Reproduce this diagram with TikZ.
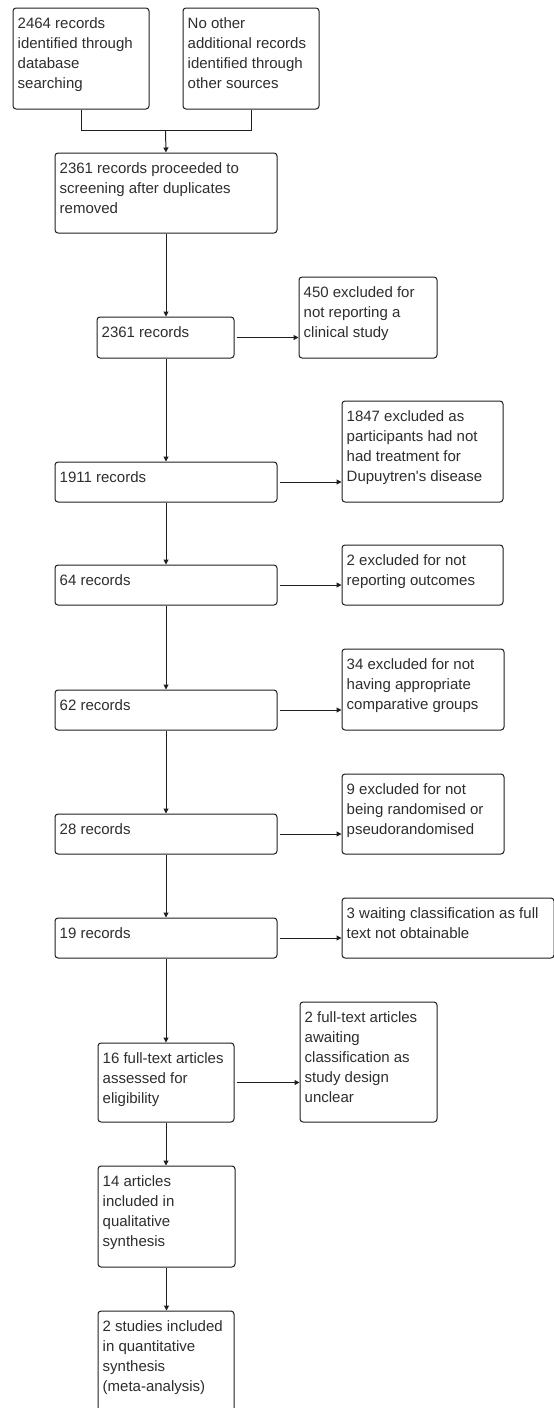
\documentclass[tikz,border=0pt]{standalone}
\usepackage{fontspec}
\setmainfont{Liberation Sans}
\usetikzlibrary{arrows.meta}
\definecolor{ink}{RGB}{45,45,45}
\definecolor{edge}{RGB}{30,30,30}
\newcommand{\fl}{\rule{0pt}{12pt}}
\begin{document}
\begin{tikzpicture}[x=1pt,y=-1pt,
  box/.style={draw=edge, line width=1pt, rounded corners=3pt, inner sep=0pt, anchor=north west},
  txt/.style={anchor=north west, inner sep=0pt, align=left, text=ink, font=\fontsize{15}{20}\selectfont},
  ln/.style={draw=edge, line width=1pt},
  arr/.style={draw=edge, line width=1pt, -{Triangle[length=5pt,width=5pt]}},
  side/.style={arr, shorten <=2pt}]
\useasboundingbox (0,0) rectangle (554,1408);
\clip (0,0) rectangle (554,1408);
\begin{scope}[xshift=0.5pt, yshift=-0.5pt]
% boxes
\node[box, minimum width=136pt, minimum height=101pt] (a1) at (12,7) {};
\node[box, minimum width=136pt, minimum height=101pt] (a2) at (182,7) {};
\node[box, minimum width=222pt, minimum height=80pt] (s) at (54,152) {};
\node[box, minimum width=137pt, minimum height=41pt] (r1) at (96,316) {};
\node[box, minimum width=138pt, minimum height=81pt] (e1) at (298,276) {};
\node[box, minimum width=222pt, minimum height=40pt] (r2) at (54,461) {};
\node[box, minimum width=161pt, minimum height=101pt] (e2) at (341,400) {};
\node[box, minimum width=222pt, minimum height=40pt] (r3) at (54,564) {};
\node[box, minimum width=161pt, minimum height=60pt] (e3) at (341,544) {};
\node[box, minimum width=222pt, minimum height=40pt] (r4) at (54,689) {};
\node[box, minimum width=162pt, minimum height=81pt] (e4) at (341,648) {};
\node[box, minimum width=222pt, minimum height=40pt] (r5) at (54,813) {};
\node[box, minimum width=162pt, minimum height=80pt] (e5) at (341,773) {};
\node[box, minimum width=222pt, minimum height=40pt] (r6) at (54,917) {};
\node[box, minimum width=212pt, minimum height=60pt] (e6) at (341,897) {};
\node[box, minimum width=136pt, minimum height=79pt] (r7) at (97,1042) {};
\node[box, minimum width=137pt, minimum height=120pt] (e7) at (299,1001) {};
\node[box, minimum width=137pt, minimum height=101pt] (r8) at (97,1165) {};
\node[box, minimum width=136pt, minimum height=112pt] (r9) at (97,1310) {};
% texts
\node[txt] (ta1) at (17,16) {\fl 2464 records\\identified through\\database\\searching};
\node[txt] (ta2) at (187,16) {\fl No other\\additional records\\identified through\\other sources};
\node[txt] (ts) at (59,161) {\fl 2361 records proceeded to\\screening after duplicates\\removed};
\node[txt] (tr1) at (101,325) {\fl 2361 records};
\node[txt] (te1) at (303,285) {\fl 450 excluded for\\not reporting a\\clinical study};
\node[txt] (tr2) at (59,470) {\fl 1911 records};
\node[txt] (te2) at (346,409) {\fl 1847 excluded as\\participants had not\\had treatment for\\Dupuytren\textquotesingle s disease};
\node[txt] (tr3) at (59,573) {\fl 64 records};
\node[txt] (te3) at (346,553) {\fl 2 excluded for not\\reporting outcomes};
\node[txt] (tr4) at (59,698) {\fl 62 records};
\node[txt] (te4) at (346,657) {\fl 34 excluded for not\\having appropriate\\comparative groups};
\node[txt] (tr5) at (59,822) {\fl 28 records};
\node[txt] (te5) at (346,782) {\fl 9 excluded for not\\being randomised or\\pseudorandomised};
\node[txt] (tr6) at (59,926) {\fl 19 records};
\node[txt] (te6) at (346,906) {\fl 3 waiting classification as full\\text not obtainable};
\node[txt] (tr7) at (102,1051) {\fl 16 full-text articles\\assessed for\\eligibility};
\node[txt] (te7) at (304,1010) {\fl 2 full-text articles\\awaiting\\classification as\\study design\\unclear};
\node[txt] (tr8) at (102,1174) {\fl 14 articles\\included in\\qualitative\\synthesis};
\node[txt] (tr9) at (102,1319) {\fl 2 studies included\\in quantitative\\synthesis\\(meta-analysis)};
% connectors
\coordinate (m) at (165,130);
\draw[ln] (a1.south) |- (m) -| (a2.south);
\draw[arr] (m) -- (s.north);
\draw[arr] (s.south) -- (s.south |- r1.north);
\draw[side] (r1.east) -- (e1.west |- r1.east);
\draw[arr] (s.south |- r1.south) -- (r2.north);
\draw[side] (r2.east) -- (e2.west |- r2.east);
\draw[arr] (r2.south) -- (r3.north);
\draw[side] (r3.east) -- (e3.west |- r3.east);
\draw[arr] (r3.south) -- (r4.north);
\draw[side] (r4.east) -- (e4.west |- r4.east);
\draw[arr] (r4.south) -- (r5.north);
\draw[side] (r5.east) -- (e5.west |- r5.east);
\draw[arr] (r5.south) -- (r6.north);
\draw[side] (r6.east) -- (e6.west |- r6.east);
\draw[arr] (r6.south) -- (r7.north);
\draw[side] (r7.east) -- (e7.west |- r7.east);
\draw[arr] (r7.south) -- (r7.south |- r8.north);
\draw[arr] (r8.south) -- (r8.south |- r9.north);
\end{scope}
\end{tikzpicture}
\end{document}
